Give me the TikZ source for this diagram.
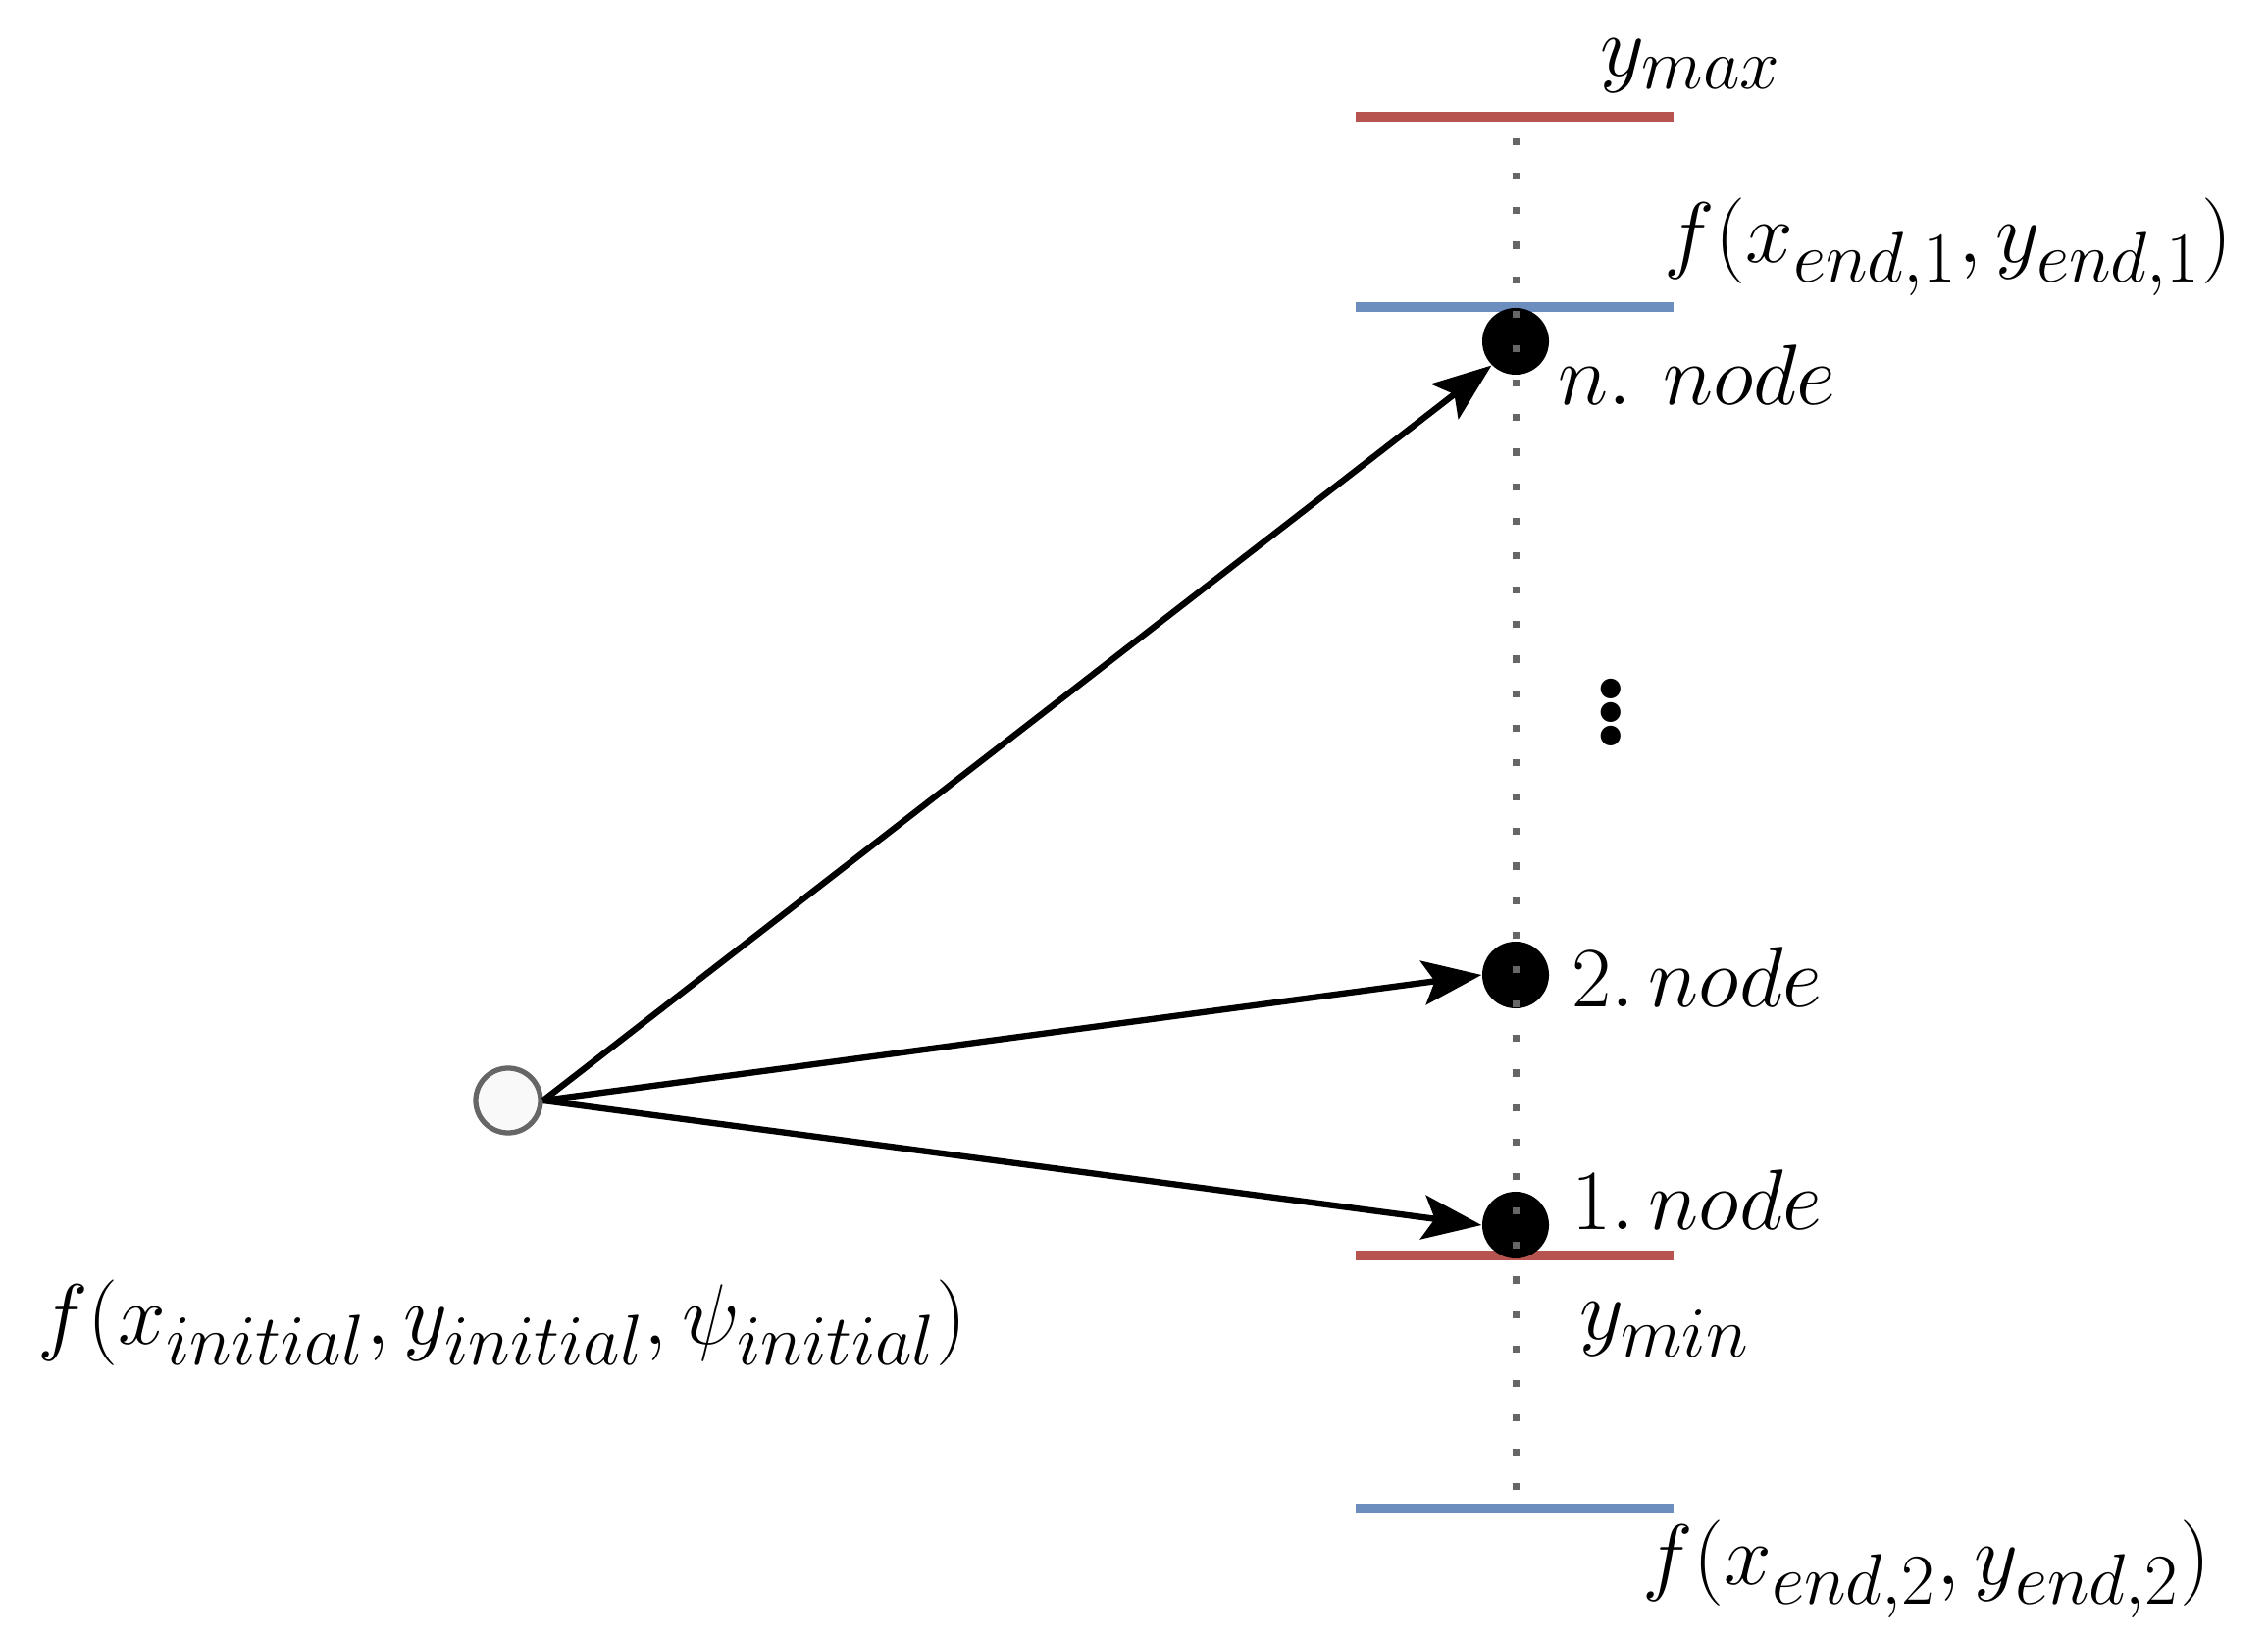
\documentclass[tikz,border=0pt]{standalone}
\usetikzlibrary{arrows.meta}
\begin{document}
\begin{tikzpicture}[x=0.01cm,y=-0.01cm,
  lbl/.style={inner sep=0pt,font=\fontsize{30}{36}\selectfont},
  bar/.style={line width=3pt},
  dot/.style={circle,fill=black,inner sep=0pt,minimum size=0.68cm},
  arr/.style={line width=1.8pt,-{Stealth[length=0.6cm,width=0.45cm,inset=0.12cm]}}]
\definecolor{rd}{HTML}{B85450}
\definecolor{bl}{HTML}{6C8EBF}
\useasboundingbox (0,0) rectangle (2312,1671);
\coordinate (t) at (1545,141); \coordinate (b) at (1545,1519);
\draw[bar,rd] (1382,119) -- (1706,119);
\draw[bar,bl] (1382,313) -- (1706,313);
\draw[bar,rd] (1382,1280) -- (1706,1280);
\draw[bar,bl] (1382,1538) -- (1706,1538);
\node[dot] (n) at (1545,348) {};
\node[dot] (n2) at (1545,994) {};
\node[dot] (n1) at (1545,1249) {};
\draw[gray!80!black,line width=2pt,dash pattern=on 2pt off 8pt] (t) -- (b);
\node[circle,draw=black!60,fill=gray!5,line width=1.5pt,minimum size=0.66cm,inner sep=0pt] (s) at (518,1122) {};
\draw[arr] (s.east) -- (n.south west);
\draw[arr] (s.east) -- (n2.west);
\draw[arr] (s.east) -- (n1.west);
\node[lbl] (ymax) at (1724,67) {$y_{max}$};
\node[lbl] (fe1) at (1986,252) {$f(x_{end,1}, y_{end,1})$};
\node[lbl] (ln) at (1730,382) {$n.\ node$};
\node[inner sep=0pt] (vd) at (1642,716) {\fontsize{70}{80}\selectfont$\vdots$};
\node[lbl] (l2) at (1730,996) {$2.\,node$};
\node[lbl] (l1) at (1730,1223) {$1.\,node$};
\node[lbl] (ymin) at (1697,1356) {$y_{min}$};
\node[lbl] (fi) at (512,1349) {$f(x_{initial}, y_{initial}, \psi_{initial})$};
\node[lbl] (fe2) at (1964,1600) {$f(x_{end,2}, y_{end,2})$};
\end{tikzpicture}
\end{document}
